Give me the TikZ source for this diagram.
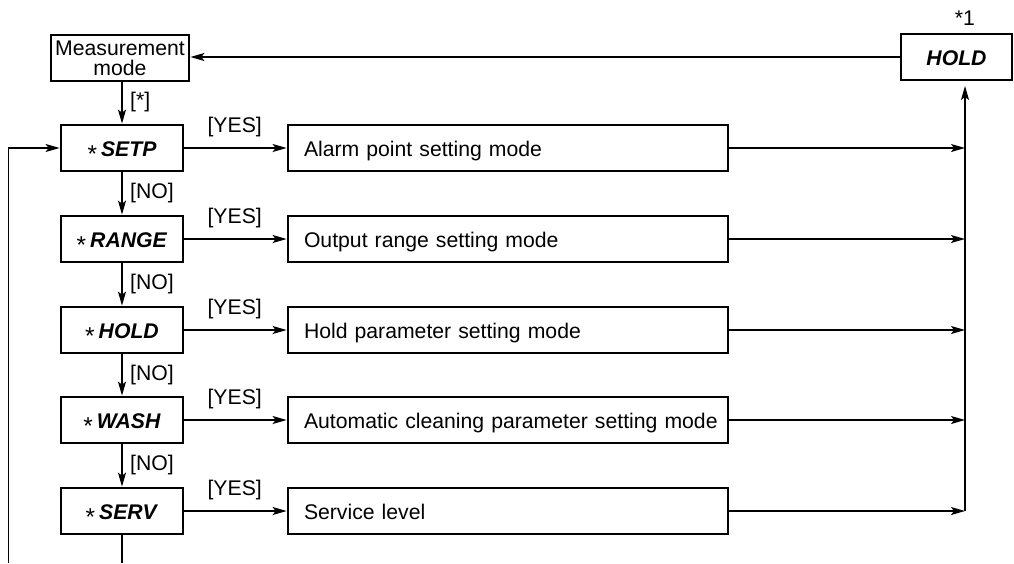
\documentclass[tikz,border=0pt]{standalone}
\usepackage{fontspec}
\setmainfont{Liberation Sans}
\usetikzlibrary{arrows.meta,positioning,calc}

\newcommand{\stp}[1]{\raisebox{-6pt}{\scalebox{1.15}{*}}\hspace{4pt}\textbf{\textit{#1}}}

\tikzset{
  box/.style={draw, line width=2.8pt, rectangle, minimum height=46pt, inner sep=0pt,
    font=\fontsize{21.2}{20}\selectfont, align=center},
  onerow/.style={text height=17pt, text depth=1pt},
  qbox/.style={box, onerow, minimum width=122pt},
  mbox/.style={box, onerow, minimum width=440pt, text width=408pt, align=left},
  conn/.style={line width=1.2pt},
  arr/.style={conn, -{Stealth[length=14pt,width=8pt,inset=3pt]}},
  lbl/.style={font=\fontsize{21.2}{20}\selectfont, inner sep=0pt, anchor=west},
}

\begin{document}
\begin{tikzpicture}[x=1pt,y=-1pt]
\useasboundingbox (0,0) rectangle (1014,563);

% top row
\node[box, minimum width=138pt] (meas) at (120,58) {Measurement\\mode};
\node[box, onerow, minimum width=111pt] (hold0) at (956.5,57) {\textbf{\textit{HOLD}}};
\node[font=\fontsize{21.2}{20}\selectfont, inner sep=0pt] (note) at (965,18) {*1};

% query boxes on the left
\node[qbox] (setp)  at (122,148) {\stp{SETP}};
\node[qbox] (range) at (122,239) {\stp{RANGE}};
\node[qbox] (hold)  at (122,330) {\stp{HOLD}};
\node[qbox] (wash)  at (122,420) {\stp{WASH}};
\node[qbox] (serv)  at (122,511) {\stp{SERV}};

% setting modes (one line each)
\node[mbox] (m1) at (508,148) {\mbox{Alarm point setting mode}};
\node[mbox] (m2) at (508,239) {\mbox{Output range setting mode}};
\node[mbox] (m3) at (508,330) {\mbox{Hold parameter setting mode}};
\node[mbox] (m4) at (508,420) {\mbox{Automatic cleaning parameter setting mode}};
\node[mbox] (m5) at (508,511) {\mbox{Service level}};

% collecting bus on the right
\coordinate (bustop) at (965,86);
\coordinate (busbot) at (965,511);
\draw[arr] (busbot) -- (bustop);
\foreach \m in {m1,m2,m3,m4,m5}
  \draw[arr] (\m.east) -- (\m.east -| busbot);

% return to measurement
\draw[arr] (hold0.west) -- (hold0.west -| meas.east);

% downward chain
\draw[arr] (meas.south -| setp) -- (setp.north);
\node[lbl] (lstar) at (130,102) {[*]};
\foreach \a/\b in {setp/range,range/hold,hold/wash,wash/serv}{
  \draw[arr] (\a.south) -- (\b.north);
  \node[lbl] at ($(\a.south)+(8,21)$) {[NO]};
}
\foreach \q/\m in {setp/m1,range/m2,hold/m3,wash/m4,serv/m5}{
  \draw[arr] (\q.east) -- (\m.west);
  \node[lbl] at ($(\q.east)+(23,-21)$) {[YES]};
}

% loop back to the first query
\coordinate (servout) at (122,563);
\coordinate (loopin) at (8.5,563);
\draw[conn] (serv.south) -- (servout);
\draw[arr] (loopin) |- (setp.west);
\end{tikzpicture}
\end{document}
